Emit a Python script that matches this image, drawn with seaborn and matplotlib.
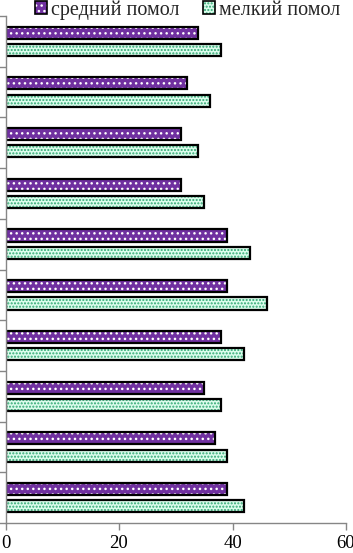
import numpy as np
import pandas as pd
import matplotlib
matplotlib.use("Agg")
import matplotlib.pyplot as plt
import seaborn as sns
from matplotlib.patches import Rectangle
from matplotlib.legend_handler import HandlerTuple

categories = [str(i) for i in range(1, 11)]
series_names = ["средний помол", "мелкий помол"]
medium = [34, 32, 31, 31, 39, 39, 38, 35, 37, 39]
fine = [38, 36, 34, 35, 43, 46, 42, 38, 39, 42]
x_ticks = [0, 20, 40, 60]

df = pd.DataFrame({
    "cat": categories + categories,
    "val": medium + fine,
    "series": [series_names[0]] * len(medium) + [series_names[1]] * len(fine),
})

sns.set_theme(style="white")
plt.rcParams['font.family'] = ['Liberation Serif', 'DejaVu Serif']
plt.rcParams['hatch.linewidth'] = 1.0

W, H = 353, 553
fig = plt.figure(figsize=(W / 100, H / 100), dpi=100)
ax = fig.add_axes([5.5 / W, 1 - 523 / H, (346 - 5.5) / W, (523 - 16) / H])

face = {series_names[0]: "#7030a0", series_names[1]: "#dcfcec"}
hatch_col = {series_names[0]: "#ffffff", series_names[1]: "#2fa873"}
hatch_pat = {series_names[0]: "...", series_names[1]: "....."}

sns.barplot(data=df, y="cat", x="val", hue="series", hue_order=series_names,
            order=categories, palette=face, width=0.68, gap=0.3, orient="h",
            ax=ax, legend=False, saturation=1)

n = len(categories)
bars = list(ax.patches)
handles = []
for i, p in enumerate(bars):
    s = series_names[i // n]
    p.set_hatch(hatch_pat[s])
    p.set_edgecolor(hatch_col[s])
    p.set_linewidth(0)
    outline = Rectangle((p.get_x(), p.get_y()), p.get_width(), p.get_height(),
                        fill=False, edgecolor="black", linewidth=1.6, zorder=p.get_zorder() + 0.1)
    ax.add_patch(outline)
    if i % n == 0:
        handles.append((p, Rectangle((0, 0), 1, 1, fill=False, edgecolor="black", linewidth=1.2)))

ax.set_xlim(0, 60)
ax.set_xticks(x_ticks)
ax.set_xticklabels([str(t) for t in x_ticks], fontsize=13.5)
ax.set_ylim(n - 0.5, -0.5)
ax.set_yticks(np.arange(-0.5, n, 1))
ax.set_yticklabels([])
ax.set_xlabel("")
ax.set_ylabel("")
for side in ["top", "right"]:
    ax.spines[side].set_visible(False)
for side in ["left", "bottom"]:
    ax.spines[side].set_color("#868686")
    ax.spines[side].set_linewidth(1.0)
ax.tick_params(axis="both", which="both", direction="out", length=5, width=1.0,
               color="#868686", left=True, bottom=True, pad=4, labelcolor="black")

fig.legend(handles, series_names, handler_map={tuple: HandlerTuple(ndivide=1, pad=0)},
           loc="center left", bbox_to_anchor=(35 / W, 1 - 10 / H), ncol=2, frameon=False,
           fontsize=14.5, handlelength=0.6, handleheight=0.6, handletextpad=0.2,
           columnspacing=1.15, borderaxespad=0, borderpad=0)

fig.savefig("out.png", dpi=100, facecolor="white")
